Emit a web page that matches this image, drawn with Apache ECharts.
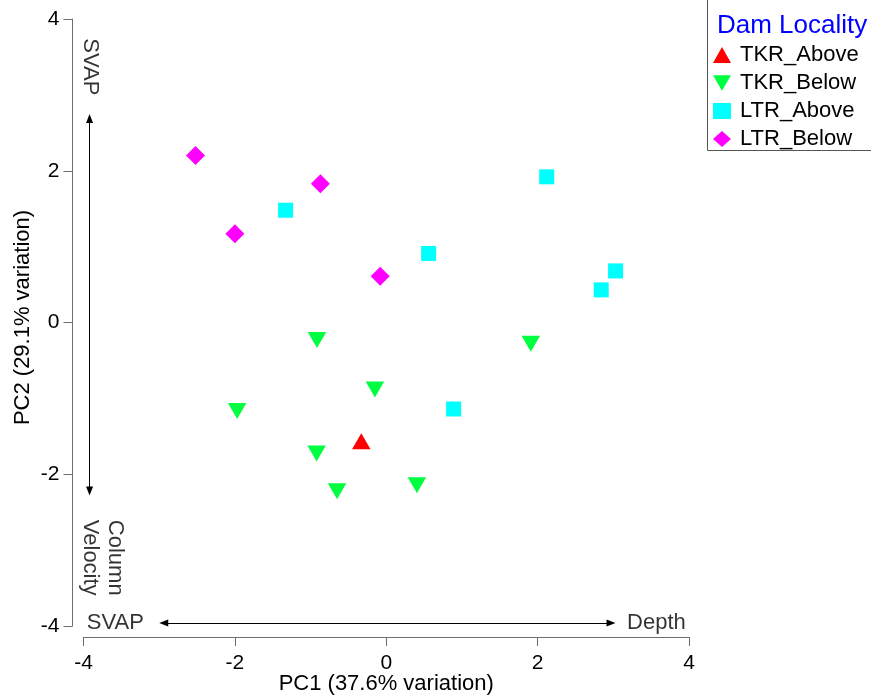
<!DOCTYPE html>
<html>
<head>
<meta charset="utf-8">
<script src="https://cdn.jsdelivr.net/npm/echarts@6/dist/echarts.min.js"></script>
<style>html,body{margin:0;padding:0;background:#fff}#c{width:871px;height:698px}</style>
</head>
<body>
<div id="c"></div>
<script>
// ---- data ----
var xTicks = [-4, -2, 0, 2, 4];
var yTicks = [-4, -2, 0, 2, 4];
var tkrAbove = [[-0.33, -1.60]];
var tkrBelow = [[-0.915, -0.195], [-0.15, -0.846], [-1.97, -1.13], [-0.92, -1.69], [-0.65, -2.19], [0.405, -2.11], [1.91, -0.244]];
var ltrAbove = [[-1.33, 1.48], [2.12, 1.92], [0.56, 0.91], [3.03, 0.68], [2.84, 0.43], [0.89, -1.14]];
var ltrBelow = [[-2.52, 2.20], [-0.87, 1.83], [-2.00, 1.17], [-0.08, 0.61]];
var groupNames = ['TKR_Above', 'TKR_Below', 'LTR_Above', 'LTR_Below'];
var legendTitle = 'Dam Locality';
var xName = 'PC1 (37.6% variation)';
var yName = 'PC2 (29.1% variation)';
// annotation arrows (data units) and labels
var arrowV = [[-3.92, -2.22], [-3.92, 2.69]];
var arrowH = [[-2.94, -3.96], [2.97, -3.96]];
var annoLabels = [
  {text: 'SVAP', pos: [-3.91, 3.37], rotate: -90},
  {text: 'Column', pos: [-3.58, -3.10], rotate: -90},
  {text: 'Velocity', pos: [-3.91, -3.10], rotate: -90},
  {text: 'SVAP', pos: [-3.58, -3.96], rotate: 0},
  {text: 'Depth', pos: [3.57, -3.96], rotate: 0}
];

var FONT = 'Liberation Sans, Arial, sans-serif';
var downTri = 'path://M0,0L2,0L1,1.732Z';
var chart = echarts.init(document.getElementById('c'), null, {renderer: 'canvas'});

function axisCommon() {
  return {
    min: -4, max: 4, interval: 2, offset: 11,
    nameLocation: 'middle', nameMoveOverlap: false,
    nameTextStyle: {fontFamily: FONT, fontSize: 22, color: '#000'},
    axisLine: {show: true, onZero: false, lineStyle: {color: '#6e6e6e', width: 1}},
    axisTick: {show: true, length: 9, inside: false, lineStyle: {color: '#6e6e6e', width: 1}},
    axisLabel: {fontFamily: FONT, fontSize: 21, color: '#000'},
    splitLine: {show: false}
  };
}
var xa = axisCommon();
xa.type = 'value'; xa.name = xName; xa.nameGap = 36; xa.axisLabel.margin = 16;
var ya = axisCommon();
ya.type = 'value'; ya.name = yName; ya.nameGap = 39; ya.axisLabel.margin = 13;
ya.nameTextStyle.padding = [0, 0, 0, 10];

var option = {
  animation: false,
  backgroundColor: '#fff',
  grid: {left: 83.5, right: 182, top: 19, bottom: 72, containLabel: false, outerBoundsMode: 'none'},
  xAxis: xa,
  yAxis: ya,
  title: {
    text: legendTitle, left: 717, top: 13, padding: 0,
    textStyle: {fontFamily: FONT, fontSize: 26, fontWeight: 'normal', color: '#0000FF'}
  },
  legend: {
    data: groupNames, orient: 'vertical', left: 713, top: 44, padding: 0,
    itemWidth: 18, itemHeight: 16, itemGap: 6,
    textStyle: {fontFamily: FONT, fontSize: 22, color: '#000', lineHeight: 22, padding: [0, 0, 0, 4]},
    selectedMode: false
  },
  graphic: [{
    type: 'rect', shape: {x: 707.5, y: -2, width: 200, height: 152.5},
    style: {fill: 'none', stroke: '#555', lineWidth: 1}, silent: true, z: 0
  }],
  series: [
    {name: groupNames[0], type: 'scatter', data: tkrAbove, symbol: 'triangle', symbolSize: [18.5, 16], symbolOffset: [0, -2.7], itemStyle: {color: '#FF0000', opacity: 1}},
    {name: groupNames[1], type: 'scatter', data: tkrBelow, symbol: downTri, symbolSize: [18.5, 16], symbolOffset: [0, 2.7], itemStyle: {color: '#00FF40', opacity: 1}},
    {name: groupNames[2], type: 'scatter', data: ltrAbove, symbol: 'rect', symbolSize: 15, itemStyle: {color: '#00FFFF', opacity: 1}},
    {name: groupNames[3], type: 'scatter', data: ltrBelow, symbol: 'diamond', symbolSize: 19, itemStyle: {color: '#FF00FF', opacity: 1}},
    {
      name: 'annotations', type: 'scatter', silent: true, symbolSize: 0,
      data: annoLabels.map(function (a) {
        return {value: a.pos, label: {show: true, position: 'inside', formatter: a.text, rotate: a.rotate,
          fontFamily: FONT, fontSize: 22, color: '#000'}};
      }),
      markLine: {
        silent: true, symbol: ['triangle', 'triangle'], symbolSize: [7, 9],
        label: {show: false},
        lineStyle: {color: '#000', width: 1, type: 'solid'},
        data: [
          [{coord: arrowV[0]}, {coord: arrowV[1]}],
          [{coord: arrowH[0]}, {coord: arrowH[1]}]
        ]
      }
    }
  ]
};
chart.setOption(option);
</script>
</body>
</html>
